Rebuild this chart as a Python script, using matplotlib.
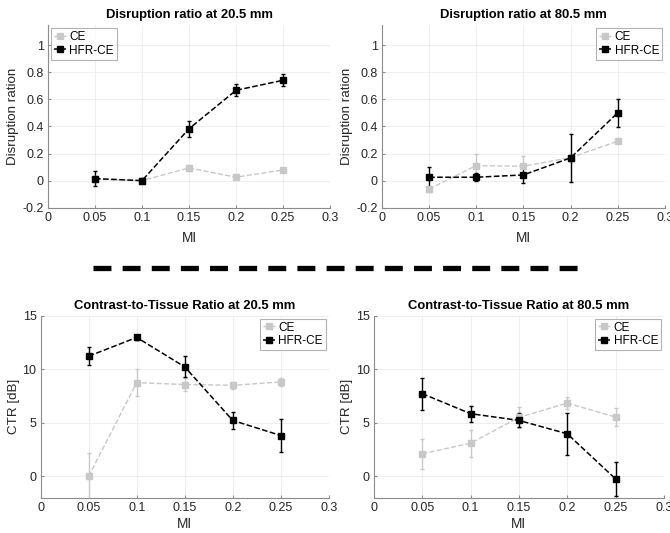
import matplotlib.pyplot as plt
from matplotlib.lines import Line2D
import numpy as np

plt.rcParams['font.family'] = ['Liberation Sans', 'DejaVu Sans']

MI = [0.05, 0.1, 0.15, 0.2, 0.25]

# disruption ratio at 20.5 mm
dr20_ce = [0.01, 0.0, 0.094, 0.025, 0.079]
dr20_ce_err = [0.01, 0.01, 0.025, 0.01, 0.01]
dr20_hfr = [0.015, 0.0, 0.383, 0.667, 0.741]
dr20_hfr_err = [0.053, 0.02, 0.06, 0.043, 0.045]

# disruption ratio at 80.5 mm
dr80_ce = [-0.062, 0.111, 0.106, 0.17, 0.291]
dr80_ce_err = [0.02, 0.085, 0.077, 0.03, 0.01]
dr80_hfr = [0.025, 0.025, 0.042, 0.168, 0.501]
dr80_hfr_err = [0.075, 0.03, 0.062, 0.175, 0.105]

# CTR at 20.5 mm
ctr20_ce = [0.0, 8.75, 8.57, 8.5, 8.81]
ctr20_ce_err = [2.15, 1.25, 0.6, 0.3, 0.4]
ctr20_hfr = [11.22, 12.97, 10.22, 5.22, 3.81]
ctr20_hfr_err = [0.85, 0.25, 0.97, 0.8, 1.5]

# CTR at 80.5 mm
ctr80_ce = [2.1, 3.09, 5.5, 6.84, 5.53]
ctr80_ce_err = [1.4, 1.25, 1.0, 0.55, 0.85]
ctr80_hfr = [7.72, 5.85, 5.22, 3.97, -0.25]
ctr80_hfr_err = [1.5, 0.75, 0.65, 1.97, 1.6]

GRAY = '#c8c8c8'
AX_COL = '#8c8c8c'
TXT = '#262626'

fig = plt.figure(figsize=(6.7, 5.33), dpi=100)

panels = [
    ([0.0716, 0.6103, 0.421, 0.343], 'Disruption ratio at 20.5 mm', dr20_ce, dr20_ce_err, dr20_hfr, dr20_hfr_err,
     'Disruption ration', (-0.2, 1.15), [-0.2, 0, 0.2, 0.4, 0.6, 0.8, 1], 'upper left', 2.5, 5),
    ([0.570, 0.6103, 0.4224, 0.343], 'Disruption ratio at 80.5 mm', dr80_ce, dr80_ce_err, dr80_hfr, dr80_hfr_err,
     'Disruption ration', (-0.2, 1.15), [-0.2, 0, 0.2, 0.4, 0.6, 0.8, 1], 'upper right', 2.5, 5),
    ([0.0607, 0.0662, 0.430, 0.3415], 'Contrast-to-Tissue Ratio at 20.5 mm', ctr20_ce, ctr20_ce_err, ctr20_hfr, ctr20_hfr_err,
     'CTR [dB]', (-2, 15), [0, 5, 10, 15], 'upper right', 2, 2),
    ([0.558, 0.0662, 0.433, 0.3415], 'Contrast-to-Tissue Ratio at 80.5 mm', ctr80_ce, ctr80_ce_err, ctr80_hfr, ctr80_hfr_err,
     'CTR [dB]', (-2, 15), [0, 5, 10, 15], 'upper right', 2, 2),
]

for rect, title, ce, ce_err, hfr, hfr_err, ylabel, ylim, yticks, loc, ypad, xpad in panels:
    ax = fig.add_axes(rect)
    ax.errorbar(MI, ce, yerr=ce_err, color=GRAY, ls='--', lw=1, marker='s', ms=5,
                capsize=1.6, elinewidth=1)
    ax.errorbar(MI, hfr, yerr=hfr_err, color='black', ls='--', lw=1.1, marker='s', ms=5,
                capsize=1.6, elinewidth=1)
    ax.set_xlim(0, 0.3)
    ax.set_ylim(*ylim)
    ax.set_xticks([0, 0.05, 0.1, 0.15, 0.2, 0.25, 0.3])
    ax.set_xticklabels(['0', '0.05', '0.1', '0.15', '0.2', '0.25', '0.3'])
    ax.set_yticks(yticks)
    ax.set_yticklabels(['%g' % v for v in yticks])
    ax.grid(True, color='#ebebeb', lw=0.6)
    ax.set_axisbelow(True)
    for s in ['top', 'right']:
        ax.spines[s].set_visible(False)
    for s in ['left', 'bottom']:
        ax.spines[s].set_color(AX_COL)
        ax.spines[s].set_linewidth(0.8)
    ax.tick_params(direction='in', length=2, color=AX_COL, labelsize=9, labelcolor=TXT, pad=3)
    ax.set_title(title, fontsize=9.4, fontweight='bold', pad=5)
    ax.set_xlabel('MI', fontsize=9.8, color=TXT, labelpad=xpad)
    ax.set_ylabel(ylabel, fontsize=9.6, color=TXT, labelpad=ypad)
    handles = [Line2D([], [], color=GRAY, ls='--', lw=1, marker='s', ms=5),
               Line2D([], [], color='black', ls='--', lw=1.1, marker='s', ms=5)]
    leg = ax.legend(handles, ['CE', 'HFR-CE'], loc=loc, fontsize=8.5, frameon=True, fancybox=False,
                    handlelength=1.0, numpoints=1, handletextpad=0.3, borderpad=0.25,
                    labelspacing=0.15, borderaxespad=0.25)
    leg.get_frame().set_edgecolor('#a0a0a0')
    leg.get_frame().set_linewidth(0.8)

# thick dashed separator between the two rows
sep = Line2D([93 / 670, 578 / 670], [1 - 268 / 533, 1 - 268 / 533], transform=fig.transFigure,
             color='black', lw=3.8, linestyle=(0, (3.4, 2.12)), solid_capstyle='butt', dash_capstyle='butt')
fig.add_artist(sep)

fig.savefig('out.png', dpi=100)
